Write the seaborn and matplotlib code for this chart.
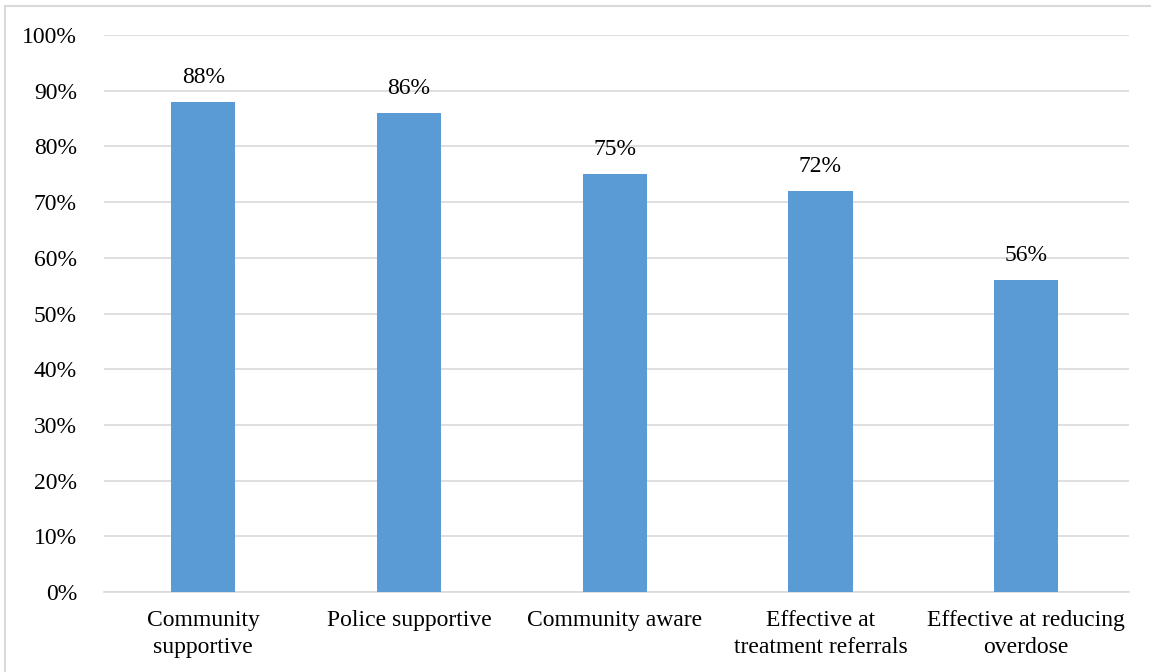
import matplotlib
matplotlib.use("Agg")
import matplotlib.pyplot as plt
from matplotlib.lines import Line2D
from matplotlib.ticker import FuncFormatter, MultipleLocator
import seaborn as sns
import pandas as pd

categories = [
    "Community\nsupportive",
    "Police supportive",
    "Community aware",
    "Effective at\ntreatment referrals",
    "Effective at reducing\noverdose",
]
values = [88, 86, 75, 72, 56]

BAR_COLOR = "#5B9BD5"
GRID_COLOR = "#D9D9D9"
FONT_SIZE = 17

sns.set_theme(style="white")
plt.rcParams["font.family"] = ["Liberation Serif", "DejaVu Serif"]

fig = plt.figure(figsize=(11.51, 6.72), dpi=100)
ax = fig.add_axes([104 / 1151, 1 - 592 / 672, (1129 - 104) / 1151, (592 - 35) / 672])

df = pd.DataFrame({"category": categories, "value": values})
sns.barplot(data=df, x="category", y="value", color=BAR_COLOR, width=0.312,
            saturation=1, linewidth=0, ax=ax, zorder=3)

ax.set_ylim(0, 100)
ax.set_xlim(-0.483, len(categories) - 0.5)
ax.yaxis.set_major_locator(MultipleLocator(10))
ax.yaxis.set_major_formatter(FuncFormatter(lambda v, _: f"{v:.0f}%"))
ax.grid(axis="y", color=GRID_COLOR, linewidth=1.2, zorder=0)
ax.set_axisbelow(True)
ax.set_xlabel("")
ax.set_ylabel("")

for side in ("top", "right", "left"):
    ax.spines[side].set_visible(False)
ax.spines["bottom"].set_color(GRID_COLOR)
ax.spines["bottom"].set_linewidth(1.2)

ax.tick_params(axis="y", length=0, pad=19.5, labelsize=FONT_SIZE, colors="#000000")
ax.tick_params(axis="x", length=0, pad=13, labelsize=FONT_SIZE, colors="#000000")
for lbl in ax.get_xticklabels():
    lbl.set_linespacing(1.4)

for container in ax.containers:
    ax.bar_label(container, labels=[f"{v}%" for v in values], padding=10,
                 fontsize=FONT_SIZE, color="#000000")

# light frame around the chart
fx = 5 / 1151
fy = 1 - 5.5 / 672
fig.add_artist(Line2D([fx, 1], [fy, fy], color=GRID_COLOR, linewidth=1.5,
                      transform=fig.transFigure))
fig.add_artist(Line2D([fx, fx], [0, fy], color=GRID_COLOR, linewidth=1.5,
                      transform=fig.transFigure))

fig.savefig("out.png", dpi=100)
